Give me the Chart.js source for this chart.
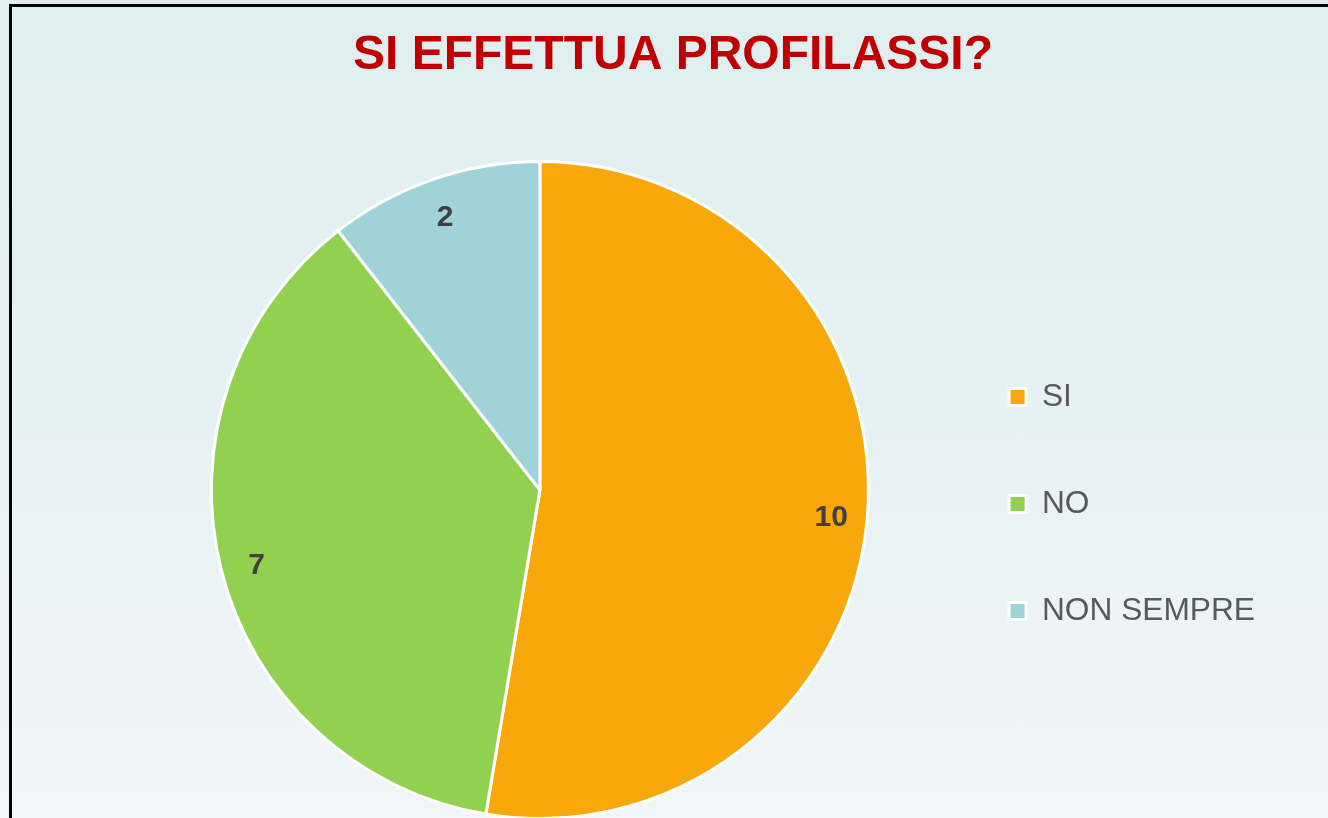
<!DOCTYPE html>
<html>
<head>
<meta charset="utf-8">
<script src="https://cdn.jsdelivr.net/npm/chart.js@4/dist/chart.umd.min.js"></script>
<style>
  html, body {
    margin: 0;
    width: 1328px;
    height: 818px;
    overflow: hidden;
    background: linear-gradient(to bottom, #dfeeef 0%, #e6f1f3 50%, #f1f6f7 100%);
  }
  .frame {
    position: absolute;
    left: 9px;
    top: 4px;
    width: 1340px;
    height: 840px;
    border: 3px solid #000;
  }
  #chart {
    position: absolute;
    left: 12px;
    top: 7px;
  }
</style>
</head>
<body>
<div class="frame"></div>
<canvas id="chart" width="1316" height="830"></canvas>
<script>
// Data
const categories = ['SI', 'NO', 'NON SEMPRE'];
const values = [10, 7, 2];
const sliceColors = ['#f8a80b', '#92d050', '#9fd3d7'];
const chartTitle = 'SI EFFETTUA PROFILASSI?';

Chart.defaults.font.family = "'Liberation Sans', Arial, sans-serif";

// value labels inside each slice
const sliceLabels = {
  id: 'sliceLabels',
  afterDatasetsDraw(chart) {
    const ctx = chart.ctx;
    const meta = chart.getDatasetMeta(0);
    ctx.save();
    ctx.font = "bold 30px 'Liberation Sans', Arial, sans-serif";
    ctx.fillStyle = '#404040';
    ctx.textAlign = 'center';
    ctx.textBaseline = 'middle';
    meta.data.forEach((arc, i) => {
      const p = arc.getProps(['x', 'y', 'startAngle', 'endAngle', 'outerRadius'], true);
      const mid = (p.startAngle + p.endAngle) / 2;
      const r = p.outerRadius * 0.89;
      ctx.fillText(String(values[i]), p.x + Math.cos(mid) * r, p.y + Math.sin(mid) * r + 4);
    });
    ctx.restore();
  }
};

new Chart(document.getElementById('chart'), {
  type: 'pie',
  data: {
    labels: categories,
    datasets: [{
      data: values,
      backgroundColor: sliceColors,
      borderColor: '#ffffff',
      borderWidth: 3
    }]
  },
  options: {
    responsive: false,
    animation: false,
    events: [],
    layout: {
      padding: { left: 69, right: 63, top: 0, bottom: 17 }
    },
    plugins: {
      title: {
        display: true,
        text: chartTitle,
        color: '#c00000',
        font: { size: 48, weight: 'bold' },
        padding: { top: 20, bottom: 75.4 }
      },
      // empty spacer on the left so the pie sits left of the title centre
      subtitle: {
        display: true,
        position: 'left',
        fullSize: false,
        text: ' ',
        font: { size: 10 },
        padding: { top: 26.5, bottom: 26.5 }
      },
      legend: {
        position: 'right',
        maxWidth: 400,
        title: {
          display: true,
          text: ' ',
          font: { size: 10 },
          padding: { top: 84.5, bottom: 84.5 }
        },
        labels: {
          boxWidth: 17,
          boxHeight: 17,
          padding: 75.3,
          color: '#595959',
          font: { size: 31.7 }
        }
      },
      tooltip: { enabled: false }
    }
  },
  plugins: [sliceLabels]
});
</script>
</body>
</html>
